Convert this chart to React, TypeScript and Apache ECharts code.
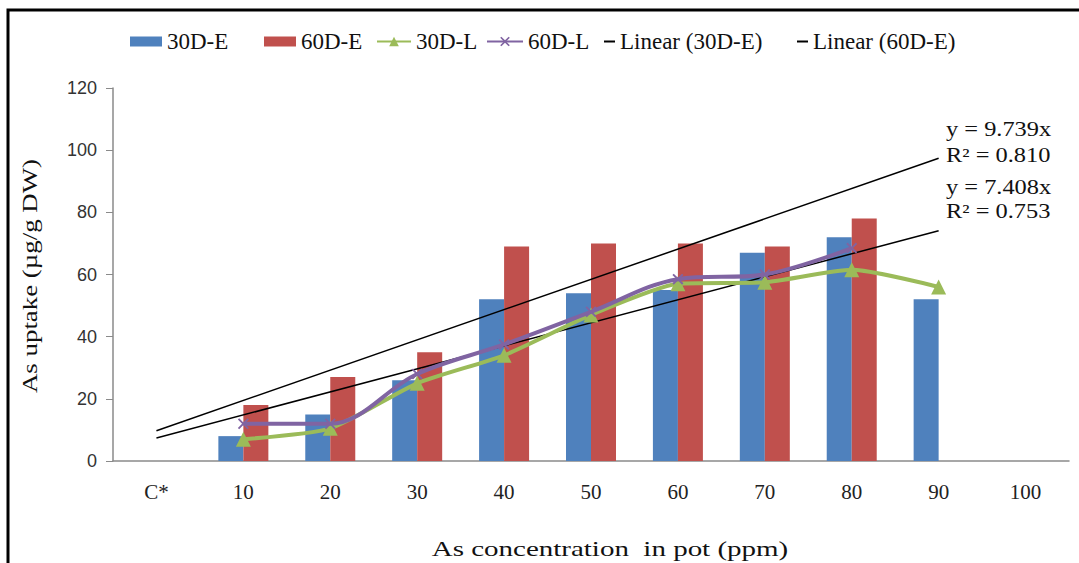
import React, { useEffect, useRef } from "react";
import * as echarts from "echarts";

const categories = ["C*", "10", "20", "30", "40", "50", "60", "70", "80", "90", "100"];
const e30 = [null, 8, 15, 26, 52, 54, 55, 67, 72, 52, null];
const e60 = [null, 18, 27, 35, 69, 70, 70, 69, 78, null, null];
const l30 = [null, 7, 10.5, 25, 34, 47, 57, 57.5, 61.5, 56, null];
const l60 = [null, 12, 12, 28, 37.5, 48, 58.5, 60, 68.5, null, null];
// Trendline endpoints (y = 7.408x and y = 9.739x at categories C* and 90)
const trend30 = [7.41, null, null, null, null, null, null, null, null, 74.08, null];
const trend60 = [9.74, null, null, null, null, null, null, null, null, 97.39, null];
const yTicks = { min: 0, max: 120, interval: 20 };
const eqLabels = ["y = 9.739x", "R² = 0.810", "y = 7.408x", "R² = 0.753"];

const SERIF = "Liberation Serif";
const SANS = "Liberation Sans";

const X_MARK = "path://M0,1.2L1.2,0L5,3.8L8.8,0L10,1.2L6.2,5L10,8.8L8.8,10L5,6.2L1.2,10L0,8.8L3.8,5Z";

const legendText = { fontFamily: SERIF, fontSize: 23, color: "#111" };
const LEG_TOP = 25;

function txt(x: number, y: number, text: string, size: number, sx: number, extra: any = {}) {
  return {
    type: "text",
    x,
    y,
    scaleX: sx,
    ...extra,
    style: {
      text,
      fontFamily: SERIF,
      fontSize: size,
      fill: "#111",
      verticalAlign: "middle",
      ...(extra.style || {}),
    },
  };
}

export default function App() {
  const ref = useRef<HTMLDivElement>(null);
  useEffect(() => {
    document.body.style.margin = "0";
    const chart = echarts.init(ref.current!, null, { renderer: "svg" });
    chart.setOption({
      animation: false,
      backgroundColor: "#ffffff",
      legend: [
        { top: LEG_TOP, left: 125, itemWidth: 32, itemHeight: 10, textStyle: legendText, data: [{ name: "30D-E", icon: "rect" }] },
        { top: LEG_TOP, left: 259, itemWidth: 32, itemHeight: 10, textStyle: legendText, data: [{ name: "60D-E", icon: "rect" }] },
        { top: LEG_TOP, left: 371, itemWidth: 34, itemHeight: 12, textStyle: legendText, data: [{ name: "30D-L" }] },
        { top: LEG_TOP, left: 481, itemWidth: 36, itemHeight: 12, textStyle: legendText, data: [{ name: "60D-L" }] },
        { top: LEG_TOP, left: 599, itemWidth: 11, itemHeight: 2, textStyle: legendText, data: [{ name: "Linear (30D-E)", icon: "rect" }] },
        { top: LEG_TOP, left: 792, itemWidth: 11, itemHeight: 2, textStyle: legendText, data: [{ name: "Linear (60D-E)", icon: "rect" }] },
      ],
      grid: { left: 113, right: 10, top: 88, bottom: 102 },
      xAxis: {
        type: "category",
        data: categories,
        axisTick: { show: false },
        axisLine: { lineStyle: { color: "#8a8a8a", width: 1.5 } },
        axisLabel: { fontFamily: SERIF, fontSize: 21, color: "#222", margin: 20 },
      },
      yAxis: {
        type: "value",
        min: yTicks.min,
        max: yTicks.max,
        interval: yTicks.interval,
        splitLine: { show: false },
        axisLine: { show: true, lineStyle: { color: "#8a8a8a", width: 1.5 } },
        axisTick: { show: true, length: 7, lineStyle: { color: "#8a8a8a" } },
        axisLabel: { fontFamily: SANS, fontSize: 18, color: "#333", margin: 16 },
      },
      series: [
        {
          name: "30D-E",
          type: "bar",
          data: e30,
          barWidth: 25,
          barGap: "0%",
          itemStyle: { color: "#4F81BD" },
        },
        {
          name: "60D-E",
          type: "bar",
          data: e60,
          barWidth: 25,
          barGap: "0%",
          itemStyle: { color: "#C0504D" },
        },
        {
          name: "Linear (30D-E)",
          type: "line",
          data: trend30,
          connectNulls: true,
          symbol: "none",
          lineStyle: { color: "#000", width: 1.5 },
          itemStyle: { color: "#000" },
          z: 3,
        },
        {
          name: "Linear (60D-E)",
          type: "line",
          data: trend60,
          connectNulls: true,
          symbol: "none",
          lineStyle: { color: "#000", width: 1.5 },
          itemStyle: { color: "#000" },
          z: 3,
        },
        {
          name: "30D-L",
          type: "line",
          data: l30,
          smooth: 0.2,
          symbol: "triangle",
          symbolSize: 15,
          lineStyle: { color: "#9BBB59", width: 4 },
          itemStyle: { color: "#9BBB59" },
          z: 4,
        },
        {
          name: "60D-L",
          type: "line",
          data: l60,
          smooth: 0.35,
          symbol: X_MARK,
          symbolSize: 11,
          lineStyle: { color: "#8064A2", width: 4 },
          itemStyle: { color: "#8064A2" },
          z: 5,
        },
      ],
      graphic: [
        {
          type: "rect",
          shape: { x: 8, y: 10, width: 1200, height: 700 },
          style: { fill: "none", stroke: "#000", lineWidth: 3 },
          silent: true,
        },
        txt(30, 276, "As uptake (µg/g DW)", 21, 1.28, {
          rotation: Math.PI / 2,
          style: { align: "center" },
        }),
        txt(610, 549, "As concentration  in pot (ppm)", 21, 1.38, { style: { align: "center" } }),
        txt(946, 129, eqLabels[0], 20, 1.22),
        txt(946, 155, eqLabels[1], 20, 1.22),
        txt(946, 187, eqLabels[2], 20, 1.22),
        txt(946, 211, eqLabels[3], 20, 1.22),
      ],
    });
    return () => chart.dispose();
  }, []);
  return <div ref={ref} style={{ width: 1079, height: 563 }} />;
}
